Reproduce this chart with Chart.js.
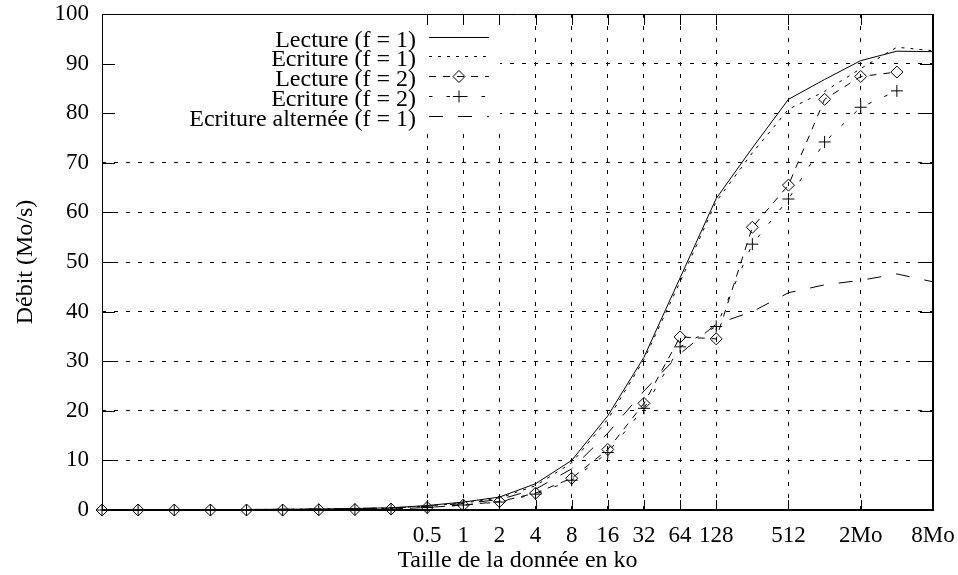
<!DOCTYPE html>
<html>
<head>
<meta charset="utf-8">
<script src="https://cdn.jsdelivr.net/npm/chart.js@4/dist/chart.umd.min.js"></script>
<style>
html,body{margin:0;padding:0;background:#fff;}
canvas{display:block;}
</style>
</head>
<body>
<canvas id="c" width="958" height="575"></canvas>
<script>
// Data size in ko (powers of two from 1 octet up to 8 Mo)
const sizesKo = [0.0009765625, 0.001953125, 0.00390625, 0.0078125, 0.015625, 0.03125, 0.0625, 0.125, 0.25,
                 0.5, 1, 2, 4, 8, 16, 32, 64, 128, 256, 512, 1024, 2048, 4096, 8192];
const tickValues = [0.5, 1, 2, 4, 8, 16, 32, 64, 128, 512, 2048, 8192];
const tickLabels = ['0.5', '1', '2', '4', '8', '16', '32', '64', '128', '512', '2Mo', '8Mo'];
const yTicks = [0, 10, 20, 30, 40, 50, 60, 70, 80, 90, 100];

const seriesNames = ['Lecture (f = 1)', 'Ecriture (f = 1)', 'Lecture (f = 2)', 'Ecriture (f = 2)', 'Ecriture altern\u00e9e (f = 1)'];

const lectureF1  = [0.05, 0.05, 0.1, 0.1, 0.1, 0.15, 0.2, 0.3, 0.45, 0.9, 1.6, 2.6, 5.3, 10.0, 19.0, 30.8, 46.8, 62.8, 73.0, 82.8, 86.8, 90.6, 92.5, 92.4];
const ecritureF1 = [0.05, 0.05, 0.1, 0.1, 0.1, 0.15, 0.2, 0.3, 0.4, 0.8, 1.4, 2.4, 4.9, 9.5, 18.3, 30.3, 46.0, 62.2, 72.0, 80.8, 84.4, 89.0, 93.3, 92.6];
const lectureF2  = [0, 0, 0, 0, 0, 0, 0.05, 0.1, 0.2, 0.5, 1.0, 1.7, 3.4, 6.4, 12.2, 21.5, 34.9, 34.5, 57.0, 65.5, 82.8, 87.4, 88.3, null];
const ecritureF2 = [0, 0, 0, 0, 0, 0, 0.05, 0.1, 0.2, 0.5, 1.0, 1.6, 3.2, 6.0, 11.6, 20.5, 32.9, 37.0, 53.6, 62.7, 74.2, 81.2, 84.5, null];
const ecritureAlt = [0.05, 0.05, 0.1, 0.1, 0.1, 0.15, 0.2, 0.3, 0.4, 0.75, 1.3, 2.1, 4.2, 8.3, 15.5, 24.0, 31.5, 37.5, 40.0, 43.8, 45.4, 46.3, 47.6, 46.0];

const toXY = arr => sizesKo.map((s, i) => ({x: s, y: arr[i]}));

Chart.defaults.font.family = '"Liberation Serif", "Times New Roman", serif';
Chart.defaults.color = '#000';

const mkDs = (label, arr, dash, style, radius) => ({
  label: label,
  data: toXY(arr),
  borderColor: '#000',
  borderWidth: 1,
  borderDash: dash,
  backgroundColor: 'rgba(0,0,0,0)',
  pointStyle: style,
  pointRadius: radius,
  pointBorderColor: '#000',
  pointBackgroundColor: 'rgba(0,0,0,0)',
  pointBorderWidth: 1,
  tension: 0,
  fill: false,
  clip: false
});

const frame = {
  id: 'frame',
  beforeDatasetsDraw(chart) {
    const {ctx, chartArea: a} = chart;
    ctx.save();
    ctx.fillStyle = '#fff';
    ctx.fillRect(a.left, a.top, 500 - a.left, 127 - a.top);
    ctx.restore();
  },
  afterDatasetsDraw(chart) {
    const {ctx, chartArea: a, scales: {x, y}} = chart;
    ctx.save();
    ctx.strokeStyle = '#000';
    ctx.setLineDash([]);
    ctx.lineWidth = 1;
    ctx.beginPath();
    x.ticks.forEach(t => {
      const px = Math.round(x.getPixelForValue(t.value)) + 0.5;
      ctx.moveTo(px, a.bottom); ctx.lineTo(px, a.bottom - 10);
      ctx.moveTo(px, a.top); ctx.lineTo(px, a.top + 11);
    });
    y.ticks.forEach(t => {
      const py = Math.round(y.getPixelForValue(t.value)) + 0.5;
      ctx.moveTo(a.left, py); ctx.lineTo(a.left + 13, py);
      ctx.moveTo(a.right, py); ctx.lineTo(a.right - 13, py);
    });
    ctx.stroke();
    // border
    const L = Math.round(a.left) + 0.5, T = Math.round(a.top) + 0.5;
    const R = Math.round(a.right), B = Math.round(a.bottom);
    ctx.beginPath();
    ctx.moveTo(L, B); ctx.lineTo(L, T); ctx.lineTo(R, T);
    ctx.stroke();
    ctx.lineWidth = 2;
    ctx.beginPath();
    ctx.moveTo(R, T - 0.5); ctx.lineTo(R, B); ctx.lineTo(L - 0.5, B);
    ctx.stroke();
    // key
    ctx.lineWidth = 1;
    ctx.font = '24px "Liberation Serif", serif';
    ctx.textAlign = 'right';
    ctx.textBaseline = 'middle';
    chart.data.datasets.forEach((ds, i) => {
      const rowY = Math.round(a.top + 22.5 + i * 19.8) + 0.5;
      ctx.fillStyle = '#000';
      ctx.fillText(ds.label, 416, rowY + 3);
      ctx.setLineDash(ds.borderDash || []);
      ctx.beginPath();
      ctx.moveTo(429, rowY); ctx.lineTo(489, rowY);
      ctx.stroke();
      if (ds.pointRadius > 0) {
        ctx.setLineDash([]);
        ctx.fillStyle = 'rgba(0,0,0,0)';
        Chart.helpers.drawPoint(ctx, {pointStyle: ds.pointStyle, radius: ds.pointRadius, borderWidth: 1, rotation: 0}, 459, rowY);
      }
    });
    ctx.restore();
  }
};

new Chart(document.getElementById('c'), {
  type: 'line',
  data: {
    datasets: [
      mkDs(seriesNames[0], lectureF1, [], 'circle', 0),
      mkDs(seriesNames[1], ecritureF1, [3, 6], 'circle', 0),
      mkDs(seriesNames[2], lectureF2, [7, 7], 'rectRot', 6),
      mkDs(seriesNames[3], ecritureF2, [3.5, 14], 'cross', 6),
      mkDs(seriesNames[4], ecritureAlt, [14, 15], 'circle', 0)
    ]
  },
  options: {
    responsive: false,
    animation: false,
    devicePixelRatio: 1,
    layout: {padding: {top: 14, right: 25, left: 0, bottom: 0}},
    plugins: {legend: {display: false}, tooltip: {enabled: false}},
    scales: {
      x: {
        type: 'logarithmic',
        min: sizesKo[0],
        max: sizesKo[sizesKo.length - 1],
        afterBuildTicks: s => { s.ticks = tickValues.map(v => ({value: v})); },
        afterFit: s => { s.height = 65; s.paddingLeft = 0; s.paddingRight = 0; },
        ticks: {
          autoSkip: false, maxRotation: 0, minRotation: 0, padding: 12,
          font: {size: 23}, color: '#000',
          callback: (v, i) => tickLabels[i]
        },
        grid: {color: '#000', lineWidth: 1, drawTicks: false},
        border: {display: false, dash: [4, 8]},
        title: {display: true, text: 'Taille de la donn\u00e9e en ko', font: {size: 24}, color: '#000', padding: {top: 0, bottom: 0}}
      },
      y: {
        type: 'linear',
        min: 0, max: 100,
        afterBuildTicks: s => { s.ticks = yTicks.map(v => ({value: v})); },
        afterFit: s => { s.width = 102; s.paddingTop = 0; s.paddingBottom = 0; },
        ticks: {padding: 13, font: {size: 23}, color: '#000'},
        grid: {color: '#000', lineWidth: 1, drawTicks: false},
        border: {display: false, dash: [4, 8]},
        title: {display: true, text: 'D\u00e9bit (Mo/s)', font: {size: 24}, color: '#000', padding: {top: 11, bottom: 0}}
      }
    }
  },
  plugins: [frame]
});
</script>
</body>
</html>
